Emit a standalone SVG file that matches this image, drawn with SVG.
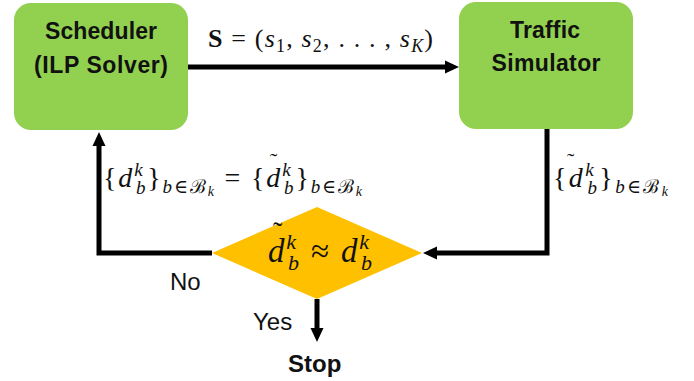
<svg xmlns="http://www.w3.org/2000/svg" width="694" height="381" viewBox="0 0 694 381">
<style>
.box{fill:#92D050}
.dia{fill:#FFC000}
.bt{font-family:"Liberation Sans",Arial,sans-serif;font-weight:bold;font-size:23px;fill:#111;text-anchor:middle}
.lb{font-family:"Liberation Sans",Arial,sans-serif;font-size:24px;fill:#111}
.m{font-family:"Liberation Serif","DejaVu Serif",serif;fill:#111}
.i{font-style:italic}
.wire{fill:none;stroke:#000;stroke-width:5;stroke-linejoin:miter}
</style>
<defs>
<marker id="ah" markerUnits="userSpaceOnUse" markerWidth="14" markerHeight="14" refX="2" refY="7" orient="auto">
<path d="M0,0.5 L14,7 L0,13.5 z" fill="#000"/>
</marker>
</defs>
<g id="connectors">
<path class="wire" d="M188,67 H447" marker-end="url(#ah)"/>
<path class="wire" d="M547,129 V253 H435" marker-end="url(#ah)"/>
<path class="wire" d="M212,253 H99 V144" marker-end="url(#ah)"/>
<path class="wire" d="M317,299 V330" marker-end="url(#ah)"/>
</g>
<g id="scheduler">
<rect class="box" x="14" y="3" width="174" height="127" rx="17"/>
<text class="bt" x="101" y="39" textLength="112">Scheduler</text>
<text class="bt" x="101" y="73" textLength="134">(ILP Solver)</text>
</g>
<g id="simulator">
<rect class="box" x="459" y="2" width="174" height="127" rx="17"/>
<text class="bt" x="545" y="38" textLength="70">Traffic</text>
<text class="bt" x="546" y="71" textLength="109">Simulator</text>
</g>
<g id="decision">
<polygon class="dia" points="212,253 317,207 422,253 317,299"/>
<text class="m" x="268" y="262" font-size="33" textLength="104" xml:space="preserve"><tspan class="i">d</tspan><tspan font-size="22" class="i" dy="-13">k</tspan><tspan font-size="22" class="i" dx="-9.8" dy="21">b</tspan><tspan dy="-8"> ≈ </tspan><tspan class="i">d</tspan><tspan font-size="22" class="i" dy="-13">k</tspan><tspan font-size="22" class="i" dx="-9.8" dy="21">b</tspan></text>
<text class="m" x="273" y="241" font-size="28">˜</text>
</g>
<g id="labels">
<text class="m" x="208" y="47" font-size="26" textLength="225" xml:space="preserve"><tspan font-weight="bold">S</tspan> = (<tspan class="i">s</tspan><tspan font-size="18" dy="5">1</tspan><tspan dy="-5">, </tspan><tspan class="i">s</tspan><tspan font-size="18" dy="5">2</tspan><tspan dy="-5">, . . . , </tspan><tspan class="i">s</tspan><tspan font-size="18" class="i" dy="5">K</tspan><tspan dy="-5">)</tspan></text>
<text class="m" x="103" y="187" font-size="28" textLength="259" xml:space="preserve">{<tspan class="i">d</tspan><tspan font-size="19" class="i" dy="-11">k</tspan><tspan font-size="19" class="i" dx="-8.4" dy="18">b</tspan><tspan dy="-7">}</tspan><tspan font-size="19" class="i" dy="6">b</tspan><tspan font-size="19" dy="0">∈ℬ</tspan><tspan font-size="14" class="i" dy="3">k</tspan><tspan dy="-9"> = {</tspan><tspan class="i">d</tspan><tspan font-size="19" class="i" dy="-11">k</tspan><tspan font-size="19" class="i" dx="-8.4" dy="18">b</tspan><tspan dy="-7">}</tspan><tspan font-size="19" class="i" dy="6">b</tspan><tspan font-size="19">∈ℬ</tspan><tspan font-size="14" class="i" dy="3">k</tspan></text>
<text class="m" x="270" y="168" font-size="22">˜</text>
<text class="m" x="553" y="187" font-size="28" textLength="115" xml:space="preserve">{<tspan class="i">d</tspan><tspan font-size="19" class="i" dy="-11">k</tspan><tspan font-size="19" class="i" dx="-8.4" dy="18">b</tspan><tspan dy="-7">}</tspan><tspan font-size="19" class="i" dy="6">b</tspan><tspan font-size="19">∈ℬ</tspan><tspan font-size="14" class="i" dy="3">k</tspan></text>
<text class="m" x="567" y="168" font-size="22">˜</text>
<text class="lb" x="170" y="290" font-size="25">No</text>
<text class="lb" x="253" y="330">Yes</text>
<text class="lb" x="288" y="372" font-weight="bold" font-size="25">Stop</text>
</g>
</svg>
